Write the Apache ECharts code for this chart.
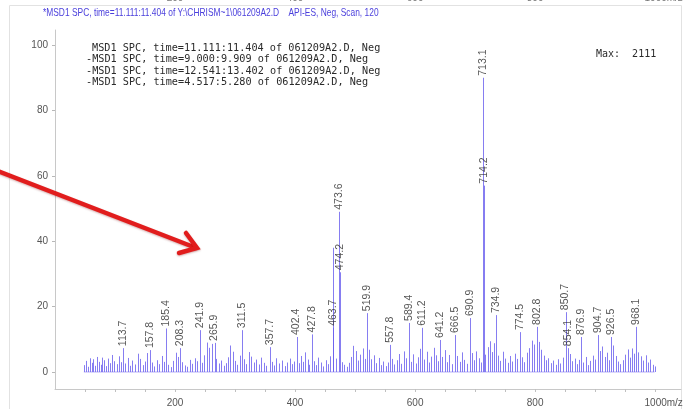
<!DOCTYPE html>
<html>
<head>
<meta charset="utf-8">
<script src="https://cdn.jsdelivr.net/npm/echarts@6/dist/echarts.min.js"></script>
<style>
  html, body { margin: 0; padding: 0; background: #ffffff; }
  #chart { width: 685px; height: 409px; }
</style>
</head>
<body>
<div id="chart"></div>
<script>
// Mass spectrum, abundance in % of base peak (Max: 2111)

// labelled peaks: m/z and relative abundance
const labelledMz = [113.7, 157.8, 185.4, 208.3, 241.9, 265.9, 311.5, 357.7, 402.4, 427.8,
  463.7, 473.6, 474.2, 519.9, 557.8, 589.4, 611.2, 641.2, 666.5, 690.9,
  713.1, 714.2, 734.9, 774.5, 802.8, 850.7, 854.1, 876.9, 904.7, 926.5, 968.1];
const labelledAbund = [7.3, 6.7, 13.3, 7.3, 12.8, 8.9, 12.8, 7.6, 10.7, 11.5,
  13.5, 49.0, 30.5, 18.0, 8.3, 15.0, 13.5, 9.8, 11.3, 16.5,
  90.0, 57.0, 17.4, 12.2, 13.8, 18.3, 7.3, 10.7, 11.3, 10.7, 13.8];

// unlabelled ions (m/z, abundance)
const ionMz = [48, 52, 55, 58, 61, 64, 67, 70, 73, 76, 79, 82, 85, 88, 91, 95, 99, 103, 106, 110,
  117, 121, 125, 129, 133, 138, 142, 146, 150, 154, 161, 165, 170, 174, 178, 182, 189, 193, 197, 201,
  205, 212, 216, 220, 225, 229, 233, 237, 245, 249, 253, 257, 261, 269, 273, 277, 281, 285, 289, 292,
  296, 300, 304, 308, 315, 319, 323, 327, 331, 335, 340, 344, 348, 352, 361, 365, 369, 374, 378, 383,
  387, 391, 395, 398, 406, 410, 414, 417, 421, 424, 431, 435, 439, 443, 447, 451, 455, 459, 463.4, 469,
  478, 482, 486, 490, 494, 497, 501, 505, 509, 513, 516, 523, 527, 531, 535, 539, 543, 547, 551, 554,
  561, 565, 569, 573, 577, 581, 585, 593, 597, 601, 605, 608, 615, 619, 623, 627, 631, 635, 638, 645,
  649, 653, 657, 661, 670, 674, 678, 682, 686, 694, 698, 702, 706, 710, 717, 721, 725, 728, 731, 738,
  742, 746, 750, 754, 758, 762, 766, 770, 778, 782, 786, 790, 794, 798, 806, 810, 814, 818, 822, 826,
  830, 834, 838, 842, 846, 858, 862, 866, 870, 873, 880, 884, 888, 892, 896, 900, 908, 912, 916, 920,
  923, 930, 934, 938, 942, 946, 950, 954, 958, 962, 965, 972, 976, 980, 984, 988, 992, 996, 999];
const ionAbund = [2.1, 3.4, 1.6, 4.2, 2.8, 3.9, 1.9, 4.6, 3.1, 2.2, 4.4, 3.6, 1.8, 4.1, 2.7, 5.2, 3.3, 2.4, 4.8, 3.0,
  2.6, 4.3, 1.9, 3.5, 2.3, 5.6, 4.0, 2.1, 3.2, 5.8, 2.9, 1.7, 3.6, 2.4, 4.9, 3.1, 2.2, 1.5, 3.4, 5.9,
  4.6, 3.0, 2.0, 1.6, 3.7, 2.5, 4.2, 3.3, 2.8, 5.1, 9.0, 7.4, 8.6, 4.0, 2.6, 3.5, 1.9, 2.7, 4.5, 8.1,
  6.2, 3.4, 2.2, 5.0, 3.9, 2.4, 6.1, 4.7, 2.9, 3.8, 2.3, 4.4, 2.8, 1.9, 3.1, 2.0, 4.2, 2.6, 3.5, 1.8,
  2.9, 4.1, 2.4, 3.2, 2.7, 4.9, 3.1, 6.0, 3.8, 2.2, 3.3, 2.1, 4.4, 2.9, 1.7, 3.6, 2.4, 4.8, 38.0, 4.1,
  3.0, 2.2, 1.6, 2.8, 4.6, 8.0, 6.4, 3.5, 5.3, 7.2, 4.0, 6.8, 3.9, 5.1, 2.7, 4.3, 2.1, 3.2, 1.8, 2.9,
  4.0, 2.3, 3.6, 5.5, 2.5, 6.3, 4.2, 3.1, 5.4, 2.6, 4.5, 7.1, 3.8, 6.2, 2.9, 4.7, 7.4, 5.1, 3.3, 4.6,
  6.7, 3.0, 5.2, 2.4, 4.9, 3.1, 6.0, 3.7, 2.5, 5.8, 3.6, 6.3, 4.2, 2.9, 5.3, 7.6, 9.4, 6.1, 8.8, 5.0,
  3.4, 6.2, 4.1, 2.8, 4.9, 3.2, 5.6, 4.0, 4.5, 3.0, 5.9, 7.3, 9.6, 8.4, 9.2, 6.8, 5.0, 3.6, 4.2, 2.7,
  3.5, 2.2, 3.9, 2.6, 4.4, 5.5, 3.3, 4.1, 2.4, 3.7, 2.9, 4.6, 2.1, 3.4, 5.0, 3.8, 6.4, 7.8, 4.6, 5.9,
  3.6, 8.1, 4.9, 3.2, 2.4, 3.6, 5.3, 6.9, 4.4, 7.2, 5.6, 6.0, 4.8, 3.5, 5.1, 2.9, 3.8, 2.2, 1.7];

// axis ticks
const yTickValues = [0, 20, 40, 60, 80, 100];
const xLabelValues = [200, 400, 600, 800, 1000];
const xTickValues = [50, 100, 150, 200, 250, 300, 350, 400, 450, 500, 550, 600, 650, 700, 750,
  800, 850, 900, 950, 1000];

// annotation text
const titleText = '*MSD1 SPC, time=11.111:11.404 of Y:\\CHRISM~1\\061209A2.D    API-ES, Neg, Scan, 120';
const legendLines = [
  'MSD1 SPC, time=11.111:11.404 of 061209A2.D, Neg',
  '-MSD1 SPC, time=9.000:9.909 of 061209A2.D, Neg',
  '-MSD1 SPC, time=12.541:13.402 of 061209A2.D, Neg',
  '-MSD1 SPC, time=4.517:5.280 of 061209A2.D, Neg'
];
const maxText = 'Max:  2111';

const stickColor = 'rgba(104, 92, 238, 0.8)';

const ions = ionMz.map((m, i) => [m, ionAbund[i]]);
const labelled = labelledMz.map((m, i) => [m, labelledAbund[i]]);
const allSticks = ions.concat(labelled);
const mzMin = Math.min.apply(null, ionMz);
const mzMax = Math.max.apply(null, ionMz);

function stick(params, api) {
  const top = api.coord([api.value(0), api.value(1)]);
  const base = api.coord([api.value(0), 0]);
  const x = Math.round(top[0]) + 0.5;
  return {
    type: 'line',
    shape: { x1: x, y1: base[1], x2: x, y2: top[1] },
    style: { stroke: stickColor, lineWidth: 1 },
    silent: true
  };
}

const chart = echarts.init(document.getElementById('chart'), null, { renderer: 'canvas' });

const axisFont = { fontFamily: 'Liberation Sans', fontSize: 10, color: '#555' };

chart.setOption({
  animation: false,
  backgroundColor: '#ffffff',
  grid: { left: 55, right: 4, top: 30, bottom: 20, containLabel: false, outerBoundsMode: 'none' },
  xAxis: [{
    type: 'value', min: 0, max: 1043, position: 'bottom',
    axisLine: { show: true, onZero: false, lineStyle: { color: '#c8c8c8', width: 1 } },
    axisTick: { show: true, customValues: xTickValues, length: 3, lineStyle: { color: '#c0c0c0' } },
    axisLabel: Object.assign({
      customValues: xLabelValues, margin: 9,
      formatter: v => v === 1000 ? '{p|}1000m/z' : String(v),
      rich: { p: { width: 17 } }
    }, axisFont),
    splitLine: { show: false }
  }, {
    // axis labels of the panel above, cut by the page edge
    type: 'value', min: 0, max: 1043, position: 'top', offset: 23,
    axisLine: { show: false }, axisTick: { show: false },
    axisLabel: Object.assign({
      customValues: xLabelValues, margin: 4,
      formatter: v => v === 1000 ? '{p|}1000m/z' : String(v),
      rich: { p: { width: 17 } }
    }, axisFont, { color: '#777' }),
    splitLine: { show: false }
  }],
  yAxis: {
    type: 'value', min: -5.2, max: 104.6,
    axisLine: { show: true, onZero: false, lineStyle: { color: '#c8c8c8', width: 1 } },
    axisTick: { show: true, customValues: yTickValues, length: 3, lineStyle: { color: '#b8b8b8' } },
    axisLabel: Object.assign({ customValues: yTickValues, margin: 7 }, axisFont),
    splitLine: { show: false }
  },
  series: [{
    // baseline under the spectrum
    type: 'line', xAxisIndex: 0,
    data: [[mzMin, 0], [mzMax, 0]],
    symbol: 'none', silent: true,
    lineStyle: { color: 'rgba(120, 108, 240, 0.55)', width: 1 }
  }, {
    type: 'custom', xAxisIndex: 0,
    renderItem: stick,
    data: allSticks,
    encode: { x: 0, y: 1 },
    clip: false
  }, {
    // m/z labels above labelled peaks
    type: 'scatter', xAxisIndex: 0,
    data: labelled, symbolSize: 0, silent: true,
    label: {
      show: true, position: 'top', distance: 2, rotate: 90,
      align: 'left', verticalAlign: 'middle',
      fontFamily: 'Liberation Sans', fontSize: 10.5, color: '#2a2a2a',
      formatter: p => p.value[0].toFixed(1)
    }
  }],
  graphic: [
    // outer frame
    { type: 'rect', shape: { x: 9.5, y: 5.5, width: 672, height: 420 },
      style: { fill: 'none', stroke: '#e2e2e2', lineWidth: 1 }, silent: true, z: -1 },
    { type: 'text', x: 43, y: 8, scaleX: 0.8,
      style: { text: titleText, fontFamily: 'Liberation Sans', fontSize: 10.5, fill: '#4a3fdc' } },
    { type: 'group', children: legendLines.map((t, i) => ({
        type: 'text', x: i === 0 ? 92 : 86, y: 43 + i * 11.5,
        style: { text: t, fontFamily: 'DejaVu Sans Mono', fontSize: 10.2, fill: '#2a2a2a' }
      })) },
    { type: 'text', x: 596, y: 49,
      style: { text: maxText, fontFamily: 'DejaVu Sans Mono', fontSize: 10, fill: '#2a2a2a' } },
    // red arrow
    { type: 'polyline', shape: { points: [[-6, 169.5], [195, 247.5]] },
      style: { stroke: '#e11d1d', lineWidth: 4.5, lineCap: 'round',
        shadowBlur: 2, shadowColor: 'rgba(120,0,0,0.3)', shadowOffsetY: 1 }, silent: true, z: 20 },
    { type: 'polyline', shape: { points: [[186, 233], [197, 248], [179, 253]] },
      style: { stroke: '#e11d1d', lineWidth: 4.5, lineJoin: 'miter', lineCap: 'round', fill: 'none',
        shadowBlur: 2, shadowColor: 'rgba(120,0,0,0.3)', shadowOffsetY: 1 }, silent: true, z: 20 }
  ]
});
</script>
</body>
</html>
